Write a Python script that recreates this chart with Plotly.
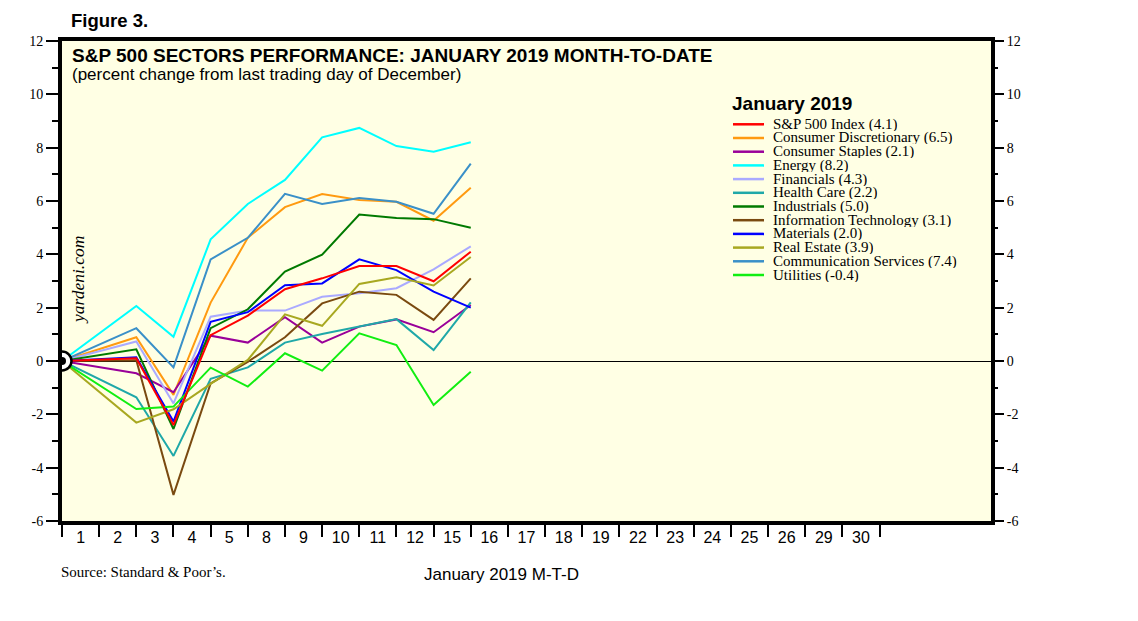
import plotly.graph_objects as go

# ---------------- data ----------------
day_labels = ["1", "2", "3", "4", "5", "8", "9", "10", "11", "12", "15", "16",
              "17", "18", "19", "22", "23", "24", "25", "26", "29", "30"]
obs_days = ["2", "3", "4", "5", "8", "9", "10", "11", "12", "15"]  # after Dec 31 base

sectors = ["S&P 500 Index", "Consumer Discretionary", "Consumer Staples", "Energy",
           "Financials", "Health Care", "Industrials", "Information Technology",
           "Materials", "Real Estate", "Communication Services", "Utilities"]

sp500 = [0, 0.10, -2.40, 0.97, 1.70, 2.69, 3.10, 3.56, 3.56, 2.99, 4.1]
cons_disc = [0, 0.89, -1.27, 2.19, 4.62, 5.77, 6.26, 6.04, 5.97, 5.26, 6.5]
cons_staples = [0, -0.46, -1.17, 0.95, 0.69, 1.64, 0.69, 1.29, 1.56, 1.08, 2.1]
energy = [0, 2.06, 0.91, 4.56, 5.89, 6.79, 8.39, 8.74, 8.06, 7.85, 8.2]
financials = [0, 0.73, -1.59, 1.66, 1.89, 1.89, 2.41, 2.54, 2.73, 3.44, 4.3]
health_care = [0, -1.36, -3.56, -0.67, -0.24, 0.69, 1.01, 1.29, 1.57, 0.41, 2.2]
industrials = [0, 0.44, -2.55, 1.23, 1.94, 3.35, 3.99, 5.49, 5.36, 5.32, 5.0]
info_tech = [0, 0.03, -5.02, -0.84, -0.03, 0.89, 2.16, 2.60, 2.48, 1.54, 3.1]
materials = [0, 0.14, -2.27, 1.47, 1.83, 2.84, 2.91, 3.81, 3.41, 2.60, 2.0]
real_estate = [0, -2.31, -1.81, -0.86, 0.04, 1.75, 1.32, 2.89, 3.14, 2.83, 3.9]
comm_services = [0, 1.23, -0.24, 3.81, 4.62, 6.27, 5.89, 6.11, 5.97, 5.52, 7.4]
utilities = [0, -1.80, -1.71, -0.25, -0.96, 0.29, -0.36, 1.04, 0.60, -1.65, -0.4]

series = [sp500, cons_disc, cons_staples, energy, financials, health_care,
          industrials, info_tech, materials, real_estate, comm_services, utilities]

colors = ["#FF0000", "#FF9A10", "#990099", "#00FFFF", "#AAAAFF", "#1FA8A8",
          "#007A00", "#7A4A10", "#0000FF", "#A8A820", "#3A90C8", "#11EE11"]

y_ticks = list(range(-6, 13, 2))

# ---------------- layout helpers ----------------
OFF = 8                      # page body margin
W, H = 1138 - OFF, 621 - 2 * OFF
L, R, T, B = 62, 991, 41, 521   # plot-area edges in page pixels
def px(x):
    return (x - L) / (R - L)
def py(y):
    return (B - y) / (B - T)

# x positions: end of each trading day's slot; base (Dec 31) at the start
x_vals = [0] + [day_labels.index(d) + 1 for d in obs_days]

fig = go.Figure()

# draw sectors first, S&P last (on top)
order = list(range(1, len(sectors))) + [0]
for i in order:
    fig.add_trace(go.Scatter(
        x=x_vals, y=series[i], mode="lines", name=sectors[i],
        line=dict(color=colors[i], width=2), showlegend=False,
        hoverinfo="skip"))

# base point marker (ring + dot), on the overlaid axis so it is on top
fig.add_trace(go.Scatter(
    x=[x_vals[0]], y=[sp500[0]], mode="markers", yaxis="y2",
    marker=dict(size=19, color="white", line=dict(color="black", width=2.5)),
    showlegend=False, hoverinfo="skip"))
fig.add_trace(go.Scatter(
    x=[x_vals[0]], y=[sp500[0]], mode="markers", yaxis="y2",
    marker=dict(size=8, color="black"),
    showlegend=False, hoverinfo="skip"))

serif = "Liberation Serif, Times New Roman, serif"
sans = "Liberation Sans, Arial, sans-serif"

yaxis_common = dict(
    range=[-6, 12],
    tickmode="array", tickvals=y_ticks, ticktext=[str(v) for v in y_ticks],
    ticks="outside", ticklen=12, tickwidth=1.5, tickcolor="black",
    tickfont=dict(family=serif, size=14, color="black"),
    showgrid=False,
    minor=dict(dtick=1, tick0=0, ticks="outside", ticklen=6, tickwidth=1.5,
               tickcolor="black", showgrid=False),
    fixedrange=True,
)

fig.update_layout(
    width=W, height=H,
    margin=dict(l=L - OFF, r=W - (R - OFF), t=T - OFF, b=H - (B - OFF), pad=0),
    paper_bgcolor="white",
    plot_bgcolor="#FFFFE4",
    showlegend=False,
    xaxis=dict(
        range=[0, 25],
        tickmode="array",
        tickvals=[i + 0.5 for i in range(len(day_labels))],
        ticktext=day_labels,
        ticks="",
        ticklabelstandoff=-1,
        tickfont=dict(family=sans, size=16, color="black"),
        showline=True, linewidth=4, linecolor="black", mirror=True,
        showgrid=False, zeroline=False,
        minor=dict(tickmode="array", tickvals=list(range(len(day_labels) + 1)),
                   ticks="outside", ticklen=12, tickwidth=2, tickcolor="black",
                   showgrid=False),
        fixedrange=True,
    ),
    yaxis=dict(**yaxis_common,
               showline=True, linewidth=4, linecolor="black", mirror=True,
               zeroline=True, zerolinecolor="black", zerolinewidth=1),
    yaxis2=dict(**yaxis_common, overlaying="y", side="right",
                showline=False, zeroline=False),
)

ann = []
def add_text(text, x, y, size, family, bold=False, italic=False, xanchor="left",
             angle=0, box_h=None):
    t = text
    if bold:
        t = "<b>" + t + "</b>"
    if italic:
        t = "<i>" + t + "</i>"
    a = dict(text=t, x=px(x), y=py(y), xref="paper", yref="paper",
             xanchor=xanchor, yanchor="middle", showarrow=False,
             textangle=angle, borderpad=0,
             font=dict(family=family, size=size, color="black"))
    if box_h is not None:
        a["height"] = box_h
        a["valign"] = "middle"
    ann.append(a)

add_text("Figure 3.", 70, 20, 18.5, sans, bold=True)
add_text("S&P 500 SECTORS PERFORMANCE: JANUARY 2019 MONTH-TO-DATE", 71, 55, 19,
         sans, bold=True)
add_text("(percent change from last trading day of December)", 71, 75, 17, sans)
add_text("yardeni.com", 78, 280, 17.5, serif, italic=True, xanchor="center",
         angle=-90)
add_text("Source: Standard & Poor\u2019s.", 60, 572, 15, serif)
add_text("January 2019 M-T-D", 501, 574, 17, sans, xanchor="center")

# legend (drawn by hand to match the compact row spacing)
add_text("January 2019", 731, 103, 19, sans, bold=True)
shapes = []
row0, row_step = 124.3, 13.7
for i, name in enumerate(sectors):
    yy = row0 + i * row_step
    shapes.append(dict(type="line", xref="paper", yref="paper",
                       x0=px(733), x1=px(764), y0=py(yy), y1=py(yy),
                       line=dict(color=colors[i], width=2.5)))
    add_text(f"{name} ({series[i][-1]:.1f})", 772, yy, 15, serif, box_h=13)

fig.update_layout(annotations=ann, shapes=shapes)

fig.write_html("out.html")
